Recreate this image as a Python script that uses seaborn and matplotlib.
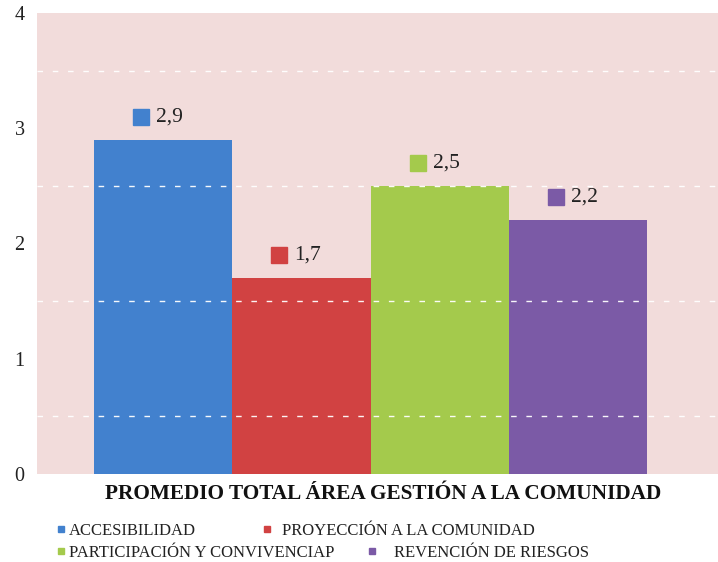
import numpy as np
import pandas as pd
import matplotlib
matplotlib.use("Agg")
import matplotlib.pyplot as plt
import matplotlib.transforms as mtransforms
from matplotlib.lines import Line2D
import seaborn as sns

# Datos
categorias = ["ACCESIBILIDAD", "PROYECCIÓN A LA COMUNIDAD",
              "PARTICIPACIÓN Y CONVIVENCIAP", "REVENCIÓN DE RIESGOS"]
valores = [2.9, 1.7, 2.5, 2.2]
etiquetas = ["2,9", "1,7", "2,5", "2,2"]
colores = ["#4281CE", "#D14242", "#A4CA4C", "#7B5AA6"]
titulo_eje = "PROMEDIO TOTAL ÁREA GESTIÓN A LA COMUNIDAD"
ticks_y = [0, 1, 2, 3, 4]

sns.set_theme(style="white")
plt.rcParams["font.family"] = ["Liberation Serif", "DejaVu Serif"]

W, H = 718, 562
fig = plt.figure(figsize=(W / 100, H / 100), dpi=100, facecolor="white")
ax = fig.add_axes([37 / W, (H - 474) / H, (W - 37) / W, (474 - 13) / H])
ax.set_facecolor("#F2DCDB")

df = pd.DataFrame({"grupo": [""] * len(categorias),
                   "categoria": categorias,
                   "valor": valores})
sns.barplot(data=df, x="grupo", y="valor", hue="categoria",
            hue_order=categorias, palette=colores, saturation=1,
            width=0.8, legend=False, ax=ax, linewidth=0)

ax.set_ylim(0, 4)
ax.set_xlim(-0.4825, 0.5027)
ax.set_yticks(ticks_y)
ax.set_yticklabels([str(t) for t in ticks_y], fontsize=14.5)
ax.set_yticks(np.arange(0.5, 4.0, 0.5), minor=True)
ax.tick_params(axis="y", which="both", length=0, pad=9, colors="#222222")
ax.tick_params(axis="x", length=0)
ax.set_xticks([])
ax.set_xlabel("")
ax.set_ylabel("")
ax.grid(False)
ax.grid(True, which="minor", axis="y", color="white", linewidth=1.0,
        linestyle=(0, (4, 7)), alpha=0.95)
ax.set_axisbelow(False)
for s in ax.spines.values():
    s.set_visible(False)

# Etiquetas de valor: cuadro de color + número sobre cada barra
for bar, etiqueta, color in zip(ax.patches, etiquetas, colores):
    cx = bar.get_x() + bar.get_width() / 2
    top = bar.get_height()
    tr_sq = mtransforms.offset_copy(ax.transData, fig=fig, x=-22 * 0.72, y=23 * 0.72, units="points")
    ax.plot([cx], [top], marker="s", markersize=12, color=color,
            transform=tr_sq, linestyle="none", clip_on=False)
    ax.annotate(etiqueta, xy=(cx, top), xytext=(-7 * 0.72, 23 * 0.72),
                textcoords="offset points", ha="left", va="center",
                fontsize=15.5, color="#222222")

fig.text(383 / W, 1 - 494 / H, titulo_eje, ha="center", va="center",
         fontsize=15.3, fontweight="bold", color="#111111")

# Leyenda en dos filas
pos_leyenda = [(54, 531), (260, 531), (54, 553), (365, 553)]
separacion = [0.1, 0.54, 0.1, 0.94]
for cat, color, (px, py), sep in zip(categorias, colores, pos_leyenda, separacion):
    h = Line2D([], [], marker="s", color=color, linestyle="none", markersize=5)
    leg = fig.legend([h], [cat], loc="center left",
                     bbox_to_anchor=(px / W, 1 - py / H), frameon=False,
                     fontsize=12, handlelength=0.8, handletextpad=sep,
                     borderpad=0, borderaxespad=0)
    for t in leg.get_texts():
        t.set_color("#222222")

fig.savefig("out.png", dpi=100, facecolor="white")
